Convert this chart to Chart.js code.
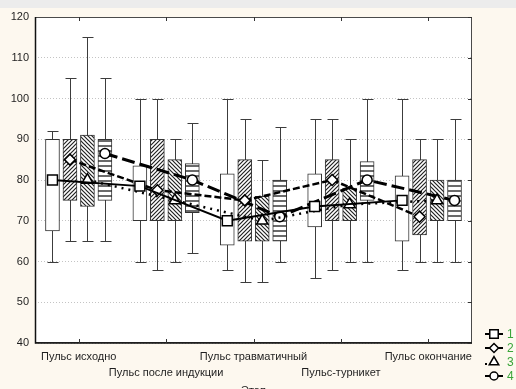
<!DOCTYPE html>
<html>
<head>
<meta charset="utf-8">
<script src="https://cdn.jsdelivr.net/npm/chart.js@4/dist/chart.umd.min.js"></script>
<style>
  html, body { margin: 0; padding: 0; }
  body { background: linear-gradient(#ececec 0 8px, #fdf8ef 8px); width: 516px; height: 389px; overflow: hidden; }
  canvas { display: block; }
</style>
</head>
<body>
<canvas id="boxChart" width="516" height="389"></canvas>
<script>
// categories (stages) and group labels
const categories = ["Пульс исходно", "Пульс после индукции", "Пульс травматичный", "Пульс-турникет", "Пульс окончание"];
const groupNames = ["1", "2", "3", "4"];
const yTicks = [40, 50, 60, 70, 80, 90, 100, 110, 120];

// group 1
const min1 = [60, 60, 58, 56, 58];
const q1_1 = [67.5, 70, 64, 68.5, 65];
const med1 = [80, 78.5, 70, 73.5, 75];
const q3_1 = [90, 83.5, 81.5, 81.5, 81];
const max1 = [92, 100, 100, 95, 100];
// group 2
const min2 = [65, 58, 55, 58, 60];
const q1_2 = [75, 70, 65, 70, 66.5];
const med2 = [85, 77.5, 75, 80, 71];
const q3_2 = [90, 90, 85, 85, 85];
const max2 = [105, 100, 95, 95, 90];
// group 3
const min3 = [65, 60, 55, 60, 60];
const q1_3 = [73.5, 70, 65, 70, 70];
const med3 = [80, 75, 70, 74, 75];
const q3_3 = [91, 85, 76, 78, 80];
const max3 = [115, 90, 85, 90, 90];
// group 4
const min4 = [65, 62, 60, 60, 60];
const q1_4 = [75, 72, 65, 75, 70];
const med4 = [86.5, 80, 71, 80, 75];
const q3_4 = [90, 84, 80, 84.5, 80];
const max4 = [105, 94, 93, 100, 95];

const mins = [min1, min2, min3, min4];
const q1s = [q1_1, q1_2, q1_3, q1_4];
const meds = [med1, med2, med3, med4];
const q3s = [q3_1, q3_2, q3_3, q3_4];
const maxs = [max1, max2, max3, max4];

const FONT = '"Liberation Sans", Arial, sans-serif';
const pointStyles = ["rect", "rectRot", "triangle", "circle"];
const pointRadii = [7, 5.5, 6.5, 5];
const dashes = [[], [7, 3], [2, 5], [13, 5]];
const lineWidths = [2, 2.5, 2.5, 3];
// position of each group inside a stage
const offsets = [-0.3, -0.1, 0.1, 0.3];

function makePattern(kind) {
  const c = document.createElement("canvas");
  const size = kind === "horiz" ? 5 : 4;
  c.width = size; c.height = size;
  const g = c.getContext("2d");
  g.fillStyle = "#fff";
  g.fillRect(0, 0, size, size);
  if (kind === "horiz") {
    g.fillStyle = "#6a6a6a";
    g.fillRect(0, 0, size, 2);
  } else {
    g.strokeStyle = "#222";
    g.lineWidth = 1.2;
    g.beginPath();
    if (kind === "up") {
      g.moveTo(-1, size + 1); g.lineTo(size + 1, -1);
      g.moveTo(-1, 1); g.lineTo(1, -1);
      g.moveTo(size - 1, size + 1); g.lineTo(size + 1, size - 1);
    } else {
      g.moveTo(-1, -1); g.lineTo(size + 1, size + 1);
      g.moveTo(size - 1, -1); g.lineTo(size + 1, 1);
      g.moveTo(-1, size - 1); g.lineTo(1, size + 1);
    }
    g.stroke();
  }
  return g.createPattern(c, "repeat");
}
const fills = ["#ffffff", makePattern("up"), makePattern("down"), makePattern("horiz")];

const boxSets = groupNames.map((name, s) => ({
  type: "bar",
  label: name,
  data: q1s[s].map((v, i) => ({ x: i + offsets[s], y: [v, q3s[s][i]] })),
  backgroundColor: fills[s],
  borderColor: "#333",
  borderWidth: 1,
  borderSkipped: false,
  grouped: false,
  barThickness: 14,
  order: 2
}));

const lineSets = groupNames.map((name, s) => ({
  type: "line",
  label: name,
  data: meds[s].map((v, i) => ({ x: i + offsets[s], y: v })),
  borderColor: "#000",
  borderWidth: lineWidths[s],
  borderDash: dashes[s],
  pointStyle: pointStyles[s],
  pointRadius: pointRadii[s],
  pointBackgroundColor: "#fff",
  pointBorderColor: "#000",
  pointBorderWidth: 1.5,
  fill: false,
  tension: 0,
  order: 1
}));

const plotBg = {
  id: "plotBg",
  beforeDraw(chart) {
    const { ctx, chartArea: a } = chart;
    ctx.save();
    ctx.fillStyle = "#fff";
    ctx.fillRect(a.left, a.top, a.right - a.left, a.bottom - a.top);
    ctx.restore();
  }
};

const whiskers = {
  id: "whiskers",
  beforeDatasetsDraw(chart) {
    const { ctx } = chart;
    const y = chart.scales.y;
    ctx.save();
    ctx.strokeStyle = "#3c3c3c";
    ctx.lineWidth = 1;
    groupNames.forEach((n, s) => {
      const meta = chart.getDatasetMeta(s);
      meta.data.forEach((bar, i) => {
        const x = Math.round(bar.x) + 0.5;
        const yMin = Math.round(y.getPixelForValue(mins[s][i])) + 0.5;
        const yMax = Math.round(y.getPixelForValue(maxs[s][i])) + 0.5;
        ctx.beginPath();
        ctx.moveTo(x, yMin); ctx.lineTo(x, yMax);
        ctx.moveTo(x - 5, yMin); ctx.lineTo(x + 6, yMin);
        ctx.moveTo(x - 5, yMax); ctx.lineTo(x + 6, yMax);
        ctx.stroke();
      });
    });
    ctx.restore();
  }
};

const frame = {
  id: "frame",
  afterDatasetsDraw(chart) {
    const { ctx, chartArea: a } = chart;
    const x = chart.scales.x, y = chart.scales.y;
    ctx.save();
    ctx.lineWidth = 1;
    ctx.strokeStyle = "#4a4a4a";
    ctx.strokeRect(a.left + 0.5, a.top + 0.5, a.right - a.left - 1, a.bottom - a.top - 1);
    ctx.strokeStyle = "#111";
    ctx.lineWidth = 1.5;
    ctx.beginPath();
    ctx.moveTo(a.left + 0.5, a.top); ctx.lineTo(a.left + 0.5, a.bottom);
    ctx.lineTo(a.right, a.bottom);
    ctx.stroke();
    ctx.lineWidth = 1;
    ctx.strokeStyle = "#333";
    ctx.beginPath();
    categories.forEach((c, i) => {
      const px = Math.round(x.getPixelForValue(i)) + 0.5;
      ctx.moveTo(px, a.top); ctx.lineTo(px, a.top + 4);
      ctx.moveTo(px, a.bottom); ctx.lineTo(px, a.bottom - 4);
    });
    yTicks.forEach(v => {
      const py = Math.round(y.getPixelForValue(v)) + 0.5;
      ctx.moveTo(a.right, py); ctx.lineTo(a.right - 4, py);
    });
    ctx.stroke();
    ctx.restore();
  }
};

const legendBox = {
  id: "legendBox",
  afterDraw(chart) {
    const { ctx, chartArea: a } = chart;
    const cx = a.right + 22;
    groupNames.forEach((name, s) => {
      const cy = 334 + s * 14;
      ctx.save();
      ctx.strokeStyle = "#000";
      ctx.lineWidth = 2;
      ctx.beginPath();
      if (s === 2) { ctx.moveTo(cx - 9, cy + 2); ctx.lineTo(cx - 7, cy + 2); }
      else { ctx.moveTo(cx - 9, cy); ctx.lineTo(cx + 9, cy); }
      ctx.stroke();
      ctx.fillStyle = "#fff";
      ctx.lineWidth = 1.5;
      Chart.helpers.drawPoint(ctx, { pointStyle: pointStyles[s], radius: pointRadii[s] - 1, borderWidth: 1.5, rotation: 0 }, cx, cy);
      ctx.fillStyle = "#3aa53a";
      ctx.font = "12px " + FONT;
      ctx.textBaseline = "middle";
      ctx.textAlign = "left";
      ctx.fillText(name, cx + 13, cy + 1);
      ctx.restore();
    });
  }
};

new Chart(document.getElementById("boxChart"), {
  type: "bar",
  data: {
    datasets: [...boxSets, ...lineSets]
  },
  options: {
    responsive: false,
    animation: false,
    layout: { padding: { left: 0, top: 17, right: 44, bottom: 0 } },
    plugins: { legend: { display: false }, tooltip: { enabled: false } },
    scales: {
      x: {
        type: "linear",
        position: "bottom",
        min: -0.5,
        max: 4.5,
        offset: false,
        grid: { display: false, drawTicks: false, offset: false },
        border: { display: false },
        afterBuildTicks: s => { s.ticks = categories.map((c, i) => ({ value: i })); },
        ticks: {
          autoSkip: false,
          maxRotation: 0,
          padding: 6,
          color: "#1e1e1e",
          font: { family: FONT, size: 11, lineHeight: 1.45 },
          callback: (v) => (v % 2 ? ["", categories[v]] : categories[v])
        },
        title: {
          display: true,
          text: "Этап",
          color: "#1e1e1e",
          font: { family: FONT, size: 11 },
          padding: { top: 0, bottom: -9 }
        },
        afterFit: s => { s.height = 46; }
      },
      y: {
        min: 40,
        max: 120,
        grid: { color: "#c4c4c4", drawTicks: false },
        border: { display: false, dash: [1, 2] },
        ticks: {
          stepSize: 10,
          padding: 6,
          color: "#1e1e1e",
          font: { family: FONT, size: 11 }
        },
        afterFit: s => { s.width = 35; }
      }
    }
  },
  plugins: [plotBg, whiskers, frame, legendBox]
});
</script>
</body>
</html>
